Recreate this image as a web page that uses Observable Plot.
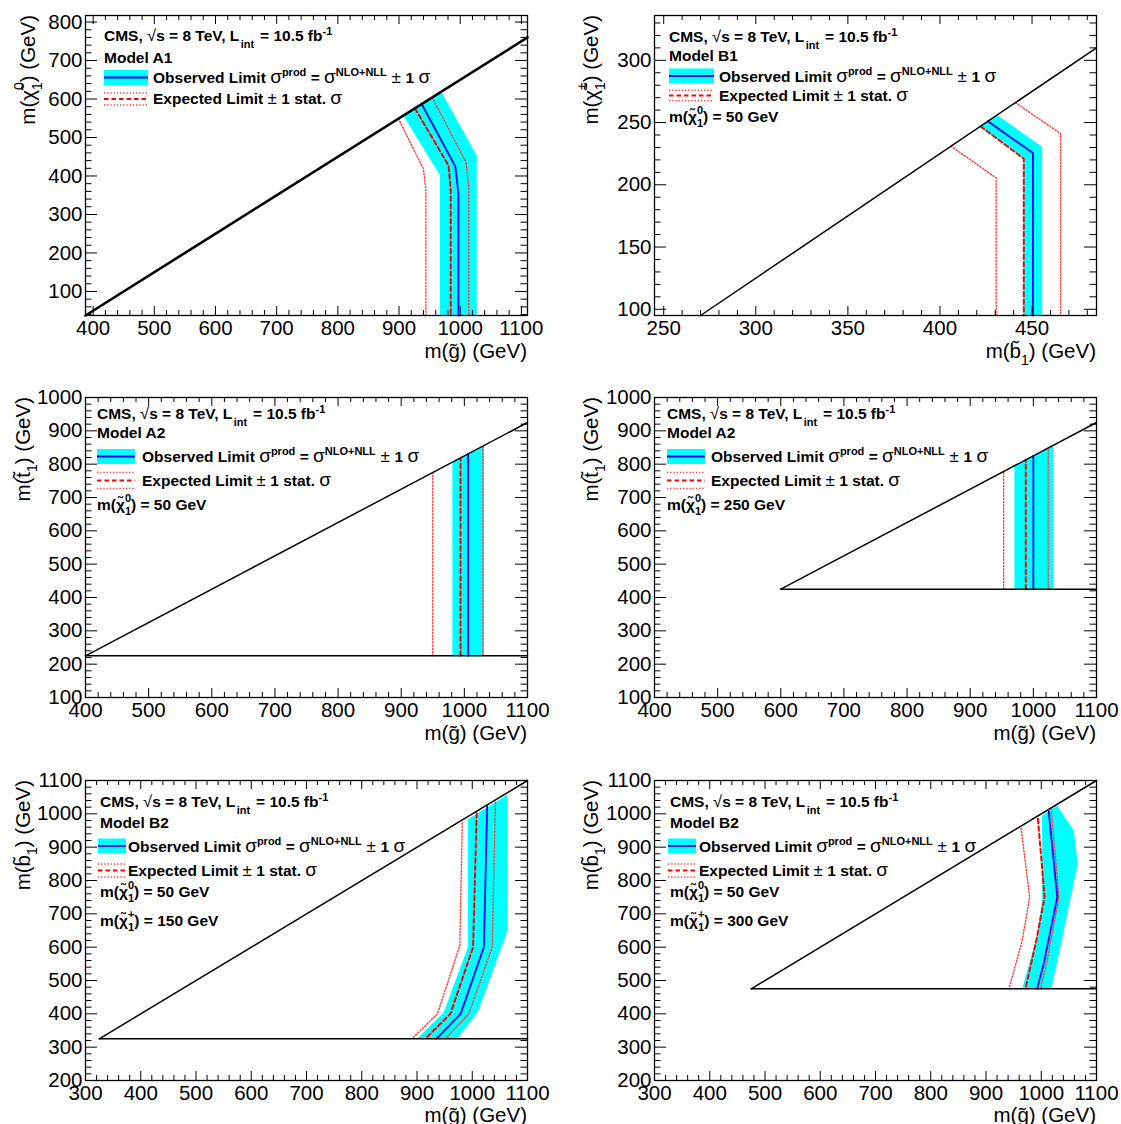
<!DOCTYPE html>
<html><head><meta charset="utf-8">
<script src="https://cdn.jsdelivr.net/npm/d3@7"></script>
<script src="https://cdn.jsdelivr.net/npm/@observablehq/plot@0.6"></script>
<style>
html,body{margin:0;padding:0;background:#fff;}
body{width:1121px;height:1124px;position:relative;overflow:hidden;}
.cell{position:absolute;}
.cell svg{display:block;}
</style></head><body>
<script>
// ---------------- DATA ----------------
// Panel A1: m(gluino) vs m(chi0)
const a1XTicks = [400, 500, 600, 700, 800, 900, 1000, 1100];
const a1YTicks = [100, 200, 300, 400, 500, 600, 700, 800];
const a1KinX = [387.5, 1110];
const a1KinY = [37.5, 760];
const a1BandX = [967, 967, 907, 969, 1027, 1027];
const a1BandY = [37.5, 401, 557, 619, 453, 37.5];
const a1ObsX = [937, 992, 997, 997];
const a1ObsY = [587, 425, 354, 37.5];
const a1ExpX = [926, 981, 984.5, 984.5];
const a1ExpY = [576, 427, 362, 37.5];
const a1DnX = [899, 940, 944, 944];
const a1DnY = [549, 418, 362, 37.5];
const a1UpX = [954, 1009.5, 1014, 1014];
const a1UpY = [604, 436, 371, 37.5];

// Panel B1: m(sbottom) vs m(chargino)
const b1XTicks = [250, 300, 350, 400, 450];
const b1YTicks = [100, 150, 200, 250, 300];
const b1KinX = [270, 485];
const b1KinY = [95, 310];
const b1BandX = [445.5, 445.5, 421.5, 431, 455.5, 455.5];
const b1BandY = [95, 221, 246.5, 256, 230.5, 95];
const b1ObsX = [426, 450.5, 450.5];
const b1ObsY = [251, 225.5, 95];
const b1ExpX = [422, 445.5, 445.5];
const b1ExpY = [247, 221, 95];
const b1DnX = [406, 430.5, 430.5];
const b1DnY = [231, 205.5, 95];
const b1UpX = [441, 465.5, 465.5];
const b1UpY = [266, 241, 95];

// Panel A2, m(chi0) = 50 GeV
const a2aXTicks = [400, 500, 600, 700, 800, 900, 1000, 1100];
const a2aYTicks = [100, 200, 300, 400, 500, 600, 700, 800, 900, 1000];
const a2aKinX = [400, 1100];
const a2aKinY = [225, 925];
const a2aFloorX = [400, 1100];
const a2aFloorY = [225, 225];
const a2aBandX = [981, 981, 1031, 1031];
const a2aBandY = [225, 806, 856, 225];
const a2aObsX = [1006, 1006];
const a2aObsY = [225, 831];
const a2aExpX = [994, 994];
const a2aExpY = [225, 819];
const a2aDnX = [950, 950];
const a2aDnY = [225, 775];
const a2aUpX = [1029.5, 1029.5];
const a2aUpY = [225, 854.5];

// Panel A2, m(chi0) = 250 GeV
const a2bXTicks = [400, 500, 600, 700, 800, 900, 1000, 1100];
const a2bYTicks = [100, 200, 300, 400, 500, 600, 700, 800, 900, 1000];
const a2bKinX = [600, 1100];
const a2bKinY = [425, 925];
const a2bFloorX = [600, 1100];
const a2bFloorY = [425, 425];
const a2bBandX = [970, 970, 1031, 1031];
const a2bBandY = [425, 795, 856, 425];
const a2bObsX = [1000, 1000];
const a2bObsY = [425, 825];
const a2bExpX = [988, 988];
const a2bExpY = [425, 813];
const a2bDnX = [953, 953];
const a2bDnY = [425, 778];
const a2bUpX = [1023.5, 1023.5];
const a2bUpY = [425, 848.5];

// Panel B2, m(chi+) = 150 GeV
const b2aXTicks = [300, 400, 500, 600, 700, 800, 900, 1000, 1100];
const b2aYTicks = [200, 300, 400, 500, 600, 700, 800, 900, 1000, 1100];
const b2aKinX = [325, 1100];
const b2aKinY = [325, 1100];
const b2aFloorX = [325, 1100];
const b2aFloorY = [325, 325];
const b2aBandX = [992, 1064, 1064, 1010, 972.5, 900, 948.5, 992];
const b2aBandY = [984, 1058, 650, 405, 325, 325, 405, 600];
const b2aObsX = [1027, 1021, 979, 935];
const b2aObsY = [1022, 600, 400, 325];
const b2aExpX = [1008, 1001.5, 960.5, 915];
const b2aExpY = [1002, 600, 400, 325];
const b2aDnX = [982, 977.5, 937, 891];
const b2aDnY = [973, 605, 400, 325];
const b2aUpX = [1042, 1036, 994, 951.5];
const b2aUpY = [1035, 600, 400, 325];

// Panel B2, m(chi+) = 300 GeV
const b2bXTicks = [300, 400, 500, 600, 700, 800, 900, 1000, 1100];
const b2bYTicks = [200, 300, 400, 500, 600, 700, 800, 900, 1000, 1100];
const b2bKinX = [475, 1100];
const b2bKinY = [475, 1100];
const b2bFloorX = [475, 1100];
const b2bFloorY = [475, 475];
const b2bBandX = [1001.5, 1028.5, 1059, 1066, 1032, 1018, 965.5, 991.5, 1001.5];
const b2bBandY = [995, 1025, 950, 850, 580, 475, 475, 630, 740];
const b2bObsX = [1013.5, 1029, 1004.5, 992.5];
const b2bObsY = [1008, 750, 550, 475];
const b2bExpX = [994, 1006, 991, 971.5];
const b2bExpY = [985, 750, 620, 475];
const b2bDnX = [963.5, 979, 965.5, 941.5];
const b2bDnY = [957, 750, 620, 475];
const b2bUpX = [1018, 1032, 1009.5, 998.5];
const b2bUpY = [1015, 750, 550, 475];

// ---------------- DRAWING ----------------
const FONT = '"Liberation Sans", Arial, Helvetica, sans-serif';
const pts = (xs, ys) => xs.map((x, i) => ({x, y: ys[i]}));
const LF = 15.5, LS = 11, LG = 19, LPM = 17;

function sp(text, s, o = {}) {
  const t = text.append("tspan").text(s);
  if (o.dx != null) t.attr("dx", o.dx);
  if (o.dy != null) t.attr("dy", o.dy);
  if (o.fs != null) t.style("font-size", o.fs + "px");
  if (o.fw != null) t.style("font-weight", o.fw);
  return t;
}

function minors(dom, step, majors) {
  const s = Math.ceil(dom[0] / step) * step;
  return d3.range(s, dom[1] + 1e-9, step).filter(v => !majors.some(m => Math.abs(m - v) < 1e-6));
}

function drawPanel(P) {
  const L = P.lay;
  const fw = L.W - L.ml - L.mr, fh = L.H - L.mt - L.mb;
  const xMin = minors(P.xd, P.xStep, P.xTicks);
  const yMin = minors(P.yd, P.yStep, P.yTicks);
  const xMaj = P.xTicks.filter(v => v >= P.xd[0] && v <= P.xd[1]);
  const yMaj = P.yTicks.filter(v => v >= P.yd[0] && v <= P.yd[1]);
  const XT = 9, XTm = 5, YT = 12, YTm = 6.5;
  const dotted = {stroke: "#ff3a3a", strokeWidth: 1.4, strokeDasharray: "1.3,1.9"};
  const marks = [
    Plot.line(pts(P.bandX, P.bandY), {x: "x", y: "y", fill: "#00ffff", stroke: "none", curve: "linear-closed"}),
    Plot.line(pts(P.dnX, P.dnY), {x: "x", y: "y", ...dotted}),
    Plot.line(pts(P.upX, P.upY), {x: "x", y: "y", ...dotted}),
    Plot.line(pts(P.expX, P.expY), {x: "x", y: "y", stroke: "#ff0000", strokeWidth: 2, strokeDasharray: "4.5,3"}),
    Plot.line(pts(P.obsX, P.obsY), {x: "x", y: "y", stroke: "#0000ff", strokeWidth: 1.8}),
    Plot.line(pts(P.kinX, P.kinY), {x: "x", y: "y", stroke: "black", strokeWidth: P.kinW}),
  ];
  if (P.floorX) marks.push(Plot.line(pts(P.floorX, P.floorY), {x: "x", y: "y", stroke: "black", strokeWidth: P.kinW}));
  marks.push(
    Plot.frame({stroke: "black", strokeWidth: 1.3}),
    Plot.tickX(xMaj, {x: d => d, insetTop: fh - XT, stroke: "black"}),
    Plot.tickX(xMaj, {x: d => d, insetBottom: fh - XT, stroke: "black"}),
    Plot.tickX(xMin, {x: d => d, insetTop: fh - XTm, stroke: "black"}),
    Plot.tickX(xMin, {x: d => d, insetBottom: fh - XTm, stroke: "black"}),
    Plot.tickY(yMaj, {y: d => d, insetRight: fw - YT, stroke: "black"}),
    Plot.tickY(yMaj, {y: d => d, insetLeft: fw - YT, stroke: "black"}),
    Plot.tickY(yMin, {y: d => d, insetRight: fw - YTm, stroke: "black"}),
    Plot.tickY(yMin, {y: d => d, insetLeft: fw - YTm, stroke: "black"}),
    Plot.axisX({ticks: P.xTicks, tickSize: 0, tickPadding: 5, tickFormat: d3.format("d"), label: null}),
    Plot.axisY({ticks: P.yTicks, tickSize: 0, tickPadding: 3, tickFormat: d3.format("d"), label: null})
  );
  const svg = Plot.plot({
    width: L.W, height: L.H,
    marginLeft: L.ml, marginRight: L.mr, marginTop: L.mt, marginBottom: L.mb,
    x: {domain: P.xd, label: null},
    y: {domain: P.yd, label: null},
    style: {fontFamily: FONT, fontSize: "20.5px", background: "transparent", color: "black", overflow: "visible"},
    marks
  });
  const S = d3.select(svg);
  // x title
  const xt = S.append("text").attr("x", L.W - L.mr).attr("y", L.H - L.mb + P.xtOff)
    .attr("text-anchor", "end").attr("font-family", FONT).style("font-size", "20.5px").attr("fill", "black");
  P.xTitle(xt);
  // y title
  const yt = S.append("text").attr("transform", `translate(${P.ytX},${L.mt}) rotate(-90)`)
    .attr("text-anchor", "end").attr("font-family", FONT).style("font-size", "20.5px").attr("fill", "black");
  P.yTitle(yt);
  // legend
  const G = P.leg;
  const g = S.append("g").attr("font-family", FONT).style("font-size", LF + "px").attr("font-weight", "bold")
    .attr("fill", "black").attr("text-anchor", "start");
  const t1 = g.append("text").attr("x", G.x).attr("y", G.b[0]);
  sp(t1, "CMS, ");
  sp(t1, "√", {fw: "normal", fs: 16.5});
  sp(t1, "s = 8 TeV, L", {fs: LF});
  sp(t1, "int", {fs: LS, dx: 1.5, dy: 7});
  sp(t1, " = 10.5 fb", {fs: LF, dx: 1.5, dy: -7});
  sp(t1, "-1", {fs: LS, dy: -6});
  g.append("text").attr("x", G.x).attr("y", G.b[1]).text(P.model);
  // observed swatch
  g.append("rect").attr("x", G.sw[0]).attr("width", G.sw[1] - G.sw[0]).attr("y", G.b[2] - 13).attr("height", 15).attr("fill", "#00ffff");
  g.append("line").attr("x1", G.sw[0]).attr("x2", G.sw[1]).attr("y1", G.b[2] - 5.5).attr("y2", G.b[2] - 5.5).attr("stroke", "#0000ff").attr("stroke-width", 1.8);
  const t3 = g.append("text").attr("x", G.tx).attr("y", G.b[2]);
  sp(t3, "Observed Limit ");
  sp(t3, "σ", {fw: "normal", fs: LG});
  sp(t3, "prod", {fs: LS, dy: -7});
  sp(t3, " = ", {fs: LF, dy: 7});
  sp(t3, "σ", {fw: "normal", fs: LG});
  sp(t3, "NLO+NLL", {fs: LS, dy: -7});
  sp(t3, " ± ", {fs: LPM, dy: 7, fw: "normal"});
  sp(t3, "1 ", {fs: LF});
  sp(t3, "σ", {fw: "normal", fs: LG});
  // expected swatch
  const ey = G.b[3] - 5;
  g.append("line").attr("x1", G.sw[0]).attr("x2", G.sw[1]).attr("y1", ey).attr("y2", ey).attr("stroke", "#ff0000").attr("stroke-width", 2).attr("stroke-dasharray", "4.5,3");
  for (const d of [-G.eg, G.eg]) {
    g.append("line").attr("x1", G.sw[0]).attr("x2", G.sw[1]).attr("y1", ey + d).attr("y2", ey + d).attr("stroke", "#ff3a3a").attr("stroke-width", 1.4).attr("stroke-dasharray", "1.3,1.9");
  }
  const t4 = g.append("text").attr("x", G.tx).attr("y", G.b[3]);
  sp(t4, "Expected Limit ");
  sp(t4, "±", {fw: "normal", fs: LPM});
  sp(t4, " 1 stat. ", {fs: LF});
  sp(t4, "σ", {fw: "normal", fs: LG});
  // extra mass lines
  (P.extra || []).forEach((e, i) => {
    const t = g.append("text").attr("x", G.x).attr("y", G.b[4 + i]);
    sp(t, "m(χ̃");
    sp(t, "1", {fs: LS, dy: 5});
    sp(t, e.sup, {fs: LS, dx: -6.1, dy: -13});
    sp(t, ") = " + e.val, {fs: LF, dy: 8});
  });
  const div = document.createElement("div");
  div.className = "cell";
  div.style.left = L.ox + "px";
  div.style.top = L.oy + "px";
  div.appendChild(svg);
  document.body.appendChild(div);
}

const titleG = t => { sp(t, "m(g̃) (GeV)"); };
const titleB1 = (fs) => t => { sp(t, "m(b̃"); sp(t, "1", {fs: fs * 0.68, dy: 7}); sp(t, ") (GeV)", {fs, dy: -7}); };
const titleT1 = t => { sp(t, "m(t̃"); sp(t, "1", {fs: 14, dy: 7}); sp(t, ") (GeV)", {fs: 20.5, dy: -7}); };
const titleChi = sup => t => {
  sp(t, "m(χ̃");
  sp(t, "1", {fs: 14, dy: 7});
  sp(t, sup, {fs: 14, dx: -7.8, dy: -18});
  sp(t, ") (GeV)", {fs: 20.5, dy: 11});
};

const panels = [
  {lay: {ox: 0, oy: 0, W: 560, H: 380, ml: 85, mr: 33, mt: 15, mb: 65},
   xd: [387.5, 1110], yd: [37.5, 817], xTicks: a1XTicks, yTicks: a1YTicks, xStep: 20, yStep: 20,
   kinX: a1KinX, kinY: a1KinY, kinW: 2.6,
   bandX: a1BandX, bandY: a1BandY, obsX: a1ObsX, obsY: a1ObsY, expX: a1ExpX, expY: a1ExpY,
   dnX: a1DnX, dnY: a1DnY, upX: a1UpX, upY: a1UpY,
   xTitle: titleG, yTitle: titleChi("0"), xtOff: 43, ytX: 35,
   model: "Model A1", leg: {x: 104, tx: 153, sw: [104, 148], b: [40.5, 62.5, 83, 104], eg: 6}},
  {lay: {ox: 560, oy: 0, W: 561, H: 380, ml: 94, mr: 25, mt: 15, mb: 65},
   xd: [245, 485], yd: [95, 336], xTicks: b1XTicks, yTicks: b1YTicks, xStep: 10, yStep: 10,
   kinX: b1KinX, kinY: b1KinY, kinW: 1.5,
   bandX: b1BandX, bandY: b1BandY, obsX: b1ObsX, obsY: b1ObsY, expX: b1ExpX, expY: b1ExpY,
   dnX: b1DnX, dnY: b1DnY, upX: b1UpX, upY: b1UpY,
   xTitle: titleB1(20.5), yTitle: titleChi("±"), xtOff: 43, ytX: 38,
   model: "Model B1", leg: {x: 109, tx: 159, sw: [109, 154], b: [41.5, 60.5, 81.5, 100.5, 122], eg: 5.2},
   extra: [{sup: "0", val: "50 GeV"}]},
  {lay: {ox: 0, oy: 380, W: 560, H: 380, ml: 85, mr: 33, mt: 17, mb: 63},
   xd: [400, 1100], yd: [100, 1000], xTicks: a2aXTicks, yTicks: a2aYTicks, xStep: 20, yStep: 20,
   kinX: a2aKinX, kinY: a2aKinY, floorX: a2aFloorX, floorY: a2aFloorY, kinW: 1.5,
   bandX: a2aBandX, bandY: a2aBandY, obsX: a2aObsX, obsY: a2aObsY, expX: a2aExpX, expY: a2aExpY,
   dnX: a2aDnX, dnY: a2aDnY, upX: a2aUpX, upY: a2aUpY,
   xTitle: titleG, yTitle: titleT1, xtOff: 43, ytX: 30,
   model: "Model A2", leg: {x: 97, tx: 142, sw: [97, 135], b: [39, 58, 82, 105.5, 130], eg: 8},
   extra: [{sup: "0", val: "50 GeV"}]},
  {lay: {ox: 560, oy: 380, W: 561, H: 380, ml: 94, mr: 25, mt: 17, mb: 63},
   xd: [400, 1100], yd: [100, 1000], xTicks: a2bXTicks, yTicks: a2bYTicks, xStep: 20, yStep: 20,
   kinX: a2bKinX, kinY: a2bKinY, floorX: a2bFloorX, floorY: a2bFloorY, kinW: 1.5,
   bandX: a2bBandX, bandY: a2bBandY, obsX: a2bObsX, obsY: a2bObsY, expX: a2bExpX, expY: a2bExpY,
   dnX: a2bDnX, dnY: a2bDnY, upX: a2bUpX, upY: a2bUpY,
   xTitle: titleG, yTitle: titleT1, xtOff: 43, ytX: 38,
   model: "Model A2", leg: {x: 107, tx: 151, sw: [107, 145], b: [39, 58, 82, 105.5, 130], eg: 8},
   extra: [{sup: "0", val: "250 GeV"}]},
  {lay: {ox: 0, oy: 760, W: 560, H: 364, ml: 85, mr: 33, mt: 20, mb: 44},
   xd: [300, 1100], yd: [200, 1100], xTicks: b2aXTicks, yTicks: b2aYTicks, xStep: 20, yStep: 20,
   kinX: b2aKinX, kinY: b2aKinY, floorX: b2aFloorX, floorY: b2aFloorY, kinW: 1.5,
   bandX: b2aBandX, bandY: b2aBandY, obsX: b2aObsX, obsY: b2aObsY, expX: b2aExpX, expY: b2aExpY,
   dnX: b2aDnX, dnY: b2aDnY, upX: b2aUpX, upY: b2aUpY,
   xTitle: titleG, yTitle: titleB1(20.5), xtOff: 42, ytX: 30,
   model: "Model B2", leg: {x: 100, tx: 128, sw: [98, 126], b: [46.5, 68, 91.5, 115.5, 137, 166], eg: 6.5},
   extra: [{sup: "0", val: "50 GeV"}, {sup: "+", val: "150 GeV"}]},
  {lay: {ox: 560, oy: 760, W: 561, H: 364, ml: 94, mr: 25, mt: 20, mb: 44},
   xd: [300, 1100], yd: [200, 1100], xTicks: b2bXTicks, yTicks: b2bYTicks, xStep: 20, yStep: 20,
   kinX: b2bKinX, kinY: b2bKinY, floorX: b2bFloorX, floorY: b2bFloorY, kinW: 1.5,
   bandX: b2bBandX, bandY: b2bBandY, obsX: b2bObsX, obsY: b2bObsY, expX: b2bExpX, expY: b2bExpY,
   dnX: b2bDnX, dnY: b2bDnY, upX: b2bUpX, upY: b2bUpY,
   xTitle: titleG, yTitle: titleB1(20.5), xtOff: 42, ytX: 38,
   model: "Model B2", leg: {x: 110, tx: 139, sw: [108, 136], b: [46.5, 68, 91.5, 115.5, 137, 166], eg: 6.5},
   extra: [{sup: "0", val: "50 GeV"}, {sup: "+", val: "300 GeV"}]}
];

panels.forEach(drawPanel);
</script>
</body></html>
